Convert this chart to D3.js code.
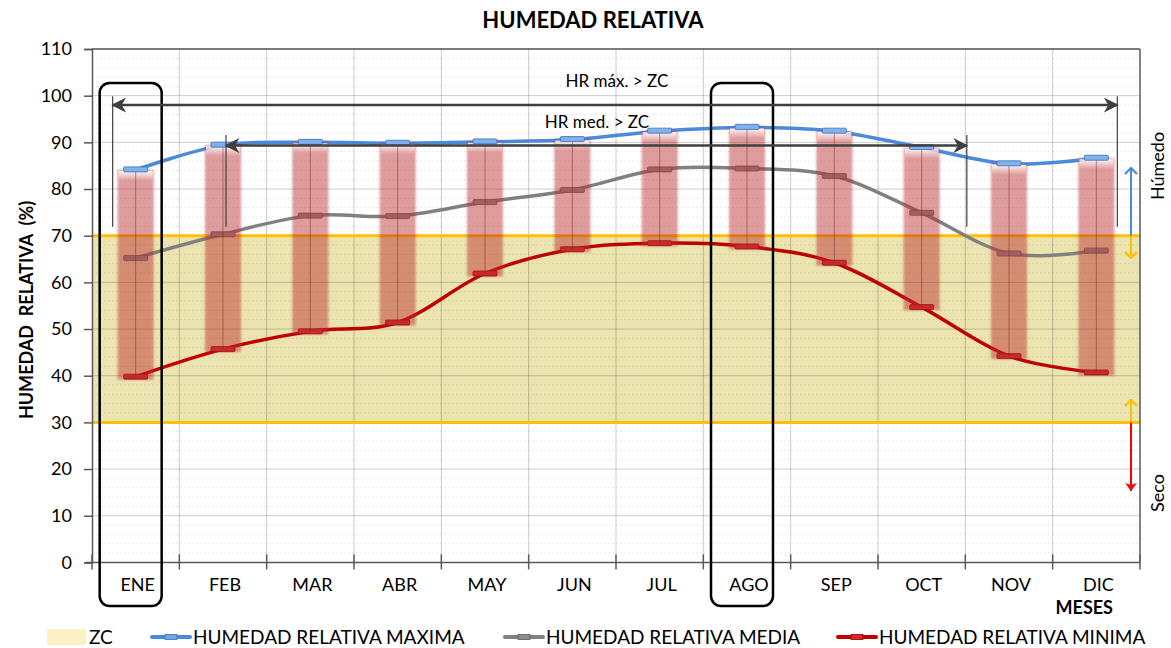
<!DOCTYPE html>
<html>
<head>
<meta charset="utf-8">
<script src="https://d3js.org/d3.v7.min.js"></script>
<style>
  body { margin: 0; background: #fff; }
  svg text { font-family: Lato, "Open Sans", sans-serif; fill: #000; }
</style>
</head>
<body>
<svg id="chart" width="1171" height="648"></svg>
<script>
// datos
var meses = ["ENE","FEB","MAR","ABR","MAY","JUN","JUL","AGO","SEP","OCT","NOV","DIC"];
var hrMax = [84.1, 89.4, 90.0, 89.8, 90.1, 90.6, 92.4, 93.2, 92.4, 88.9, 85.4, 86.6];
var hrMed = [65.2, 70.3, 74.3, 74.2, 77.2, 79.8, 84.2, 84.4, 82.8, 74.9, 66.2, 66.8];
var hrMin = [39.8, 45.7, 49.5, 51.4, 61.9, 67.1, 68.4, 67.7, 64.2, 54.7, 44.2, 40.7];
var zc = [30, 70];
var yTicks = [0,10,20,30,40,50,60,70,80,90,100,110];
var leyenda = ["ZC","HUMEDAD RELATIVA MAXIMA","HUMEDAD RELATIVA MEDIA","HUMEDAD RELATIVA MINIMA"];

var svg = d3.select("#chart");
var pLeft = 92, pRight = 1140, pTop = 49, pBottom = 562.4;

var x = d3.scaleBand().domain(meses).range([pLeft, pRight]);
var y = d3.scaleLinear().domain([0, 110]).range([pBottom, pTop]);
var xc = function(m){ return x(m) + x.bandwidth()/2; };

var defs = svg.append("defs");
var blur = defs.append("filter").attr("id","soft").attr("x","-20%").attr("y","-5%").attr("width","140%").attr("height","110%");
blur.append("feGaussianBlur").attr("stdDeviation", 1.2);
var glow = defs.append("linearGradient").attr("id","glow").attr("x1",0).attr("y1",0).attr("x2",0).attr("y2",1);
glow.append("stop").attr("offset","0%").attr("stop-color","#fff").attr("stop-opacity",0.9);
glow.append("stop").attr("offset","100%").attr("stop-color","#fff").attr("stop-opacity",0);

function arrowHead(id, color){
  defs.append("marker").attr("id", id)
    .attr("viewBox","0 0 10 10").attr("refX",9).attr("refY",5)
    .attr("markerWidth",6).attr("markerHeight",6).attr("markerUnits","strokeWidth")
    .attr("orient","auto-start-reverse")
    .append("path").attr("d","M0,0 L10,5 L0,10 L3,5 Z").attr("fill", color);
}
arrowHead("ahDark", "#3f3f3f");
function chevron(id, color){
  defs.append("marker").attr("id", id)
    .attr("viewBox","0 0 8 14").attr("refX",7).attr("refY",7)
    .attr("markerWidth",4).attr("markerHeight",7).attr("markerUnits","strokeWidth")
    .attr("orient","auto-start-reverse")
    .append("path").attr("d","M1,1 L7,7 L1,13").attr("fill","none").attr("stroke", color).attr("stroke-width",2.2);
}
chevron("chBlue", "#4a89dc");
chevron("chYellow", "#ffc000");
defs.append("marker").attr("id","chRed")
  .attr("viewBox","0 0 8 14").attr("refX",8).attr("refY",7)
  .attr("markerWidth",4).attr("markerHeight",7).attr("markerUnits","strokeWidth")
  .attr("orient","auto-start-reverse")
  .append("path").attr("d","M0,1 L8,7 L0,13 L2,7 Z").attr("fill","#ff0000");

// titulo
svg.append("text").attr("x", 593).attr("y", 28).attr("text-anchor","middle")
  .style("font-weight","bold").style("font-size","22px").text("HUMEDAD RELATIVA");

// zona de confort
svg.append("rect").attr("x", pLeft).attr("y", y(zc[1])).attr("width", pRight-pLeft)
  .attr("height", y(zc[0]) - y(zc[1])).attr("fill", "#ece4b0");

// rejilla
var minor = d3.range(0, 111, 2).filter(function(d){ return d % 10 != 0; });
svg.append("g").selectAll("line").data(minor).enter().append("line")
  .attr("x1", pLeft).attr("x2", pRight).attr("y1", y).attr("y2", y)
  .attr("stroke","rgba(0,0,0,0.09)").attr("stroke-dasharray","2,2");
svg.append("g").selectAll("line").data(yTicks.slice(1)).enter().append("line")
  .attr("x1", pLeft).attr("x2", pRight).attr("y1", y).attr("y2", y)
  .attr("stroke","rgba(0,0,0,0.2)");
svg.append("g").selectAll("line").data(meses.slice(1)).enter().append("line")
  .attr("x1", function(d){ return x(d); }).attr("x2", function(d){ return x(d); })
  .attr("y1", pTop).attr("y2", pBottom)
  .attr("stroke","rgba(0,0,0,0.2)");

// limites ZC
svg.append("g").selectAll("line").data(zc).enter().append("line")
  .attr("x1", pLeft).attr("x2", pRight).attr("y1", y).attr("y2", y)
  .attr("stroke","#ffc000").attr("stroke-width",3);

// borde del area
svg.append("line").attr("x1",pLeft).attr("x2",pRight).attr("y1",pTop).attr("y2",pTop).attr("stroke","#595959").attr("stroke-width",1.5);
svg.append("line").attr("x1",pRight).attr("x2",pRight).attr("y1",pTop).attr("y2",pBottom).attr("stroke","#595959").attr("stroke-width",1.5);

// ejes
var yAxis = svg.append("g").attr("transform","translate("+pLeft+",0)")
  .call(d3.axisLeft(y).tickValues(yTicks).tickSize(8).tickPadding(12));
yAxis.select(".domain").attr("stroke","#595959").attr("stroke-width",1.5);
yAxis.selectAll(".tick line").attr("stroke","#595959").attr("stroke-width",1.5);
yAxis.selectAll("text").style("font-size","18px").style("font-family","Lato");

var xAxis = svg.append("g").attr("transform","translate(0,"+pBottom+")")
  .call(d3.axisBottom(x).tickSize(0).tickPadding(16));
xAxis.select(".domain").remove();
xAxis.selectAll("text").style("font-size","18px").style("font-family","Lato")
  .attr("dx", 2);
svg.append("line").attr("x1", pLeft-6).attr("x2", pRight).attr("y1", pBottom).attr("y2", pBottom)
  .attr("stroke","#595959").attr("stroke-width",1.5);
svg.append("g").selectAll("line").data(meses.concat(["_fin"])).enter().append("line")
  .attr("x1", function(d,i){ return pLeft + i*x.bandwidth(); })
  .attr("x2", function(d,i){ return pLeft + i*x.bandwidth(); })
  .attr("y1", pBottom-8).attr("y2", pBottom+7)
  .attr("stroke","#595959").attr("stroke-width",1.5);

svg.append("text").attr("x", 1113).attr("y", 614).attr("text-anchor","end")
  .style("font-weight","bold").style("font-size","18px").text("MESES");
svg.append("text").attr("transform","translate(33,310) rotate(-90)").attr("text-anchor","middle")
  .style("font-weight","bold").style("font-size","18px").attr("xml:space","preserve")
  .text("HUMEDAD  RELATIVA  (%)");

// lineas suavizadas
var series = [
  {vals: hrMax, color: "#4a89dc", fill: "#6ea8ea", edge: "#3a6fb5"},
  {vals: hrMed, color: "#808080", fill: "#8c8c8c", edge: "#5a5a5a"},
  {vals: hrMin, color: "#c00000", fill: "#d62828", edge: "#8b0000"}
];
var line = d3.line()
  .x(function(d,i){ return xc(meses[i]); })
  .y(function(d){ return y(d); })
  .curve(d3.curveCardinal.tension(0));

series.forEach(function(s, k){
  svg.append("path").datum(s.vals).attr("d", line)
    .attr("fill","none").attr("stroke", s.color).attr("stroke-width",3.5);
  if (k > 0) {
    svg.append("g").selectAll("rect").data(s.vals).enter().append("rect")
      .attr("x", function(d,i){ return xc(meses[i]) - 12; })
      .attr("y", function(d){ return y(d) - 2.5; })
      .attr("width", 24).attr("height", 5).attr("rx", 1)
      .attr("fill", s.fill).attr("stroke", s.edge).attr("stroke-width", 0.8);
  }
});

// barras min-max
var bars = svg.append("g");
bars.selectAll("rect.bar").data(meses).enter().append("rect").attr("class","bar")
  .attr("x", function(d){ return xc(d) - 18; })
  .attr("y", function(d,i){ return y(hrMax[i]); })
  .attr("width", 36)
  .attr("height", function(d,i){ return y(hrMin[i]) - y(hrMax[i]) + 3; })
  .attr("fill","rgba(185,45,45,0.47)").attr("filter","url(#soft)");
bars.selectAll("rect.glow").data(meses).enter().append("rect").attr("class","glow")
  .attr("x", function(d){ return xc(d) - 17; })
  .attr("y", function(d,i){ return y(hrMax[i]) + 1; })
  .attr("width", 34).attr("height", 10)
  .attr("fill","url(#glow)");
bars.selectAll("line").data(meses).enter().append("line")
  .attr("x1", xc).attr("x2", xc)
  .attr("y1", function(d,i){ return y(hrMax[i]); })
  .attr("y2", function(d,i){ return y(hrMin[i]); })
  .attr("stroke","rgba(110,30,30,0.45)").attr("stroke-width",1);

// marcadores maxima
svg.append("g").selectAll("rect").data(hrMax).enter().append("rect")
  .attr("x", function(d,i){ return xc(meses[i]) - 12; })
  .attr("y", function(d){ return y(d) - 3; })
  .attr("width", 24).attr("height", 5).attr("rx", 1)
  .attr("fill", "#7fb2ec").attr("stroke", "#3a6fb5").attr("stroke-width", 0.8);

// recuadros ENE y AGO
["ENE","AGO"].forEach(function(m){
  svg.append("rect").attr("x", xc(m) - 36).attr("y", 83).attr("width", 62)
    .attr("height", 523).attr("rx", 10)
    .attr("fill","none").attr("stroke","#000").attr("stroke-width",2.5);
});

// flechas HR > ZC
function flecha(x1, x2, yv, yTop, txt, tx, ty){
  svg.append("line").attr("x1", x1).attr("x2", x2).attr("y1", y(yv)).attr("y2", y(yv))
    .attr("stroke","#3f3f3f").attr("stroke-width",2.5)
    .attr("marker-start","url(#ahDark)").attr("marker-end","url(#ahDark)");
  [x1, x2].forEach(function(xx){
    svg.append("line").attr("x1", xx).attr("x2", xx).attr("y1", y(yTop)).attr("y2", y(71.9))
      .attr("stroke","#3f3f3f").attr("stroke-width",1.2);
  });
  svg.append("text").attr("x", tx).attr("y", ty).attr("text-anchor","middle")
    .style("font-size","17px").text(txt);
}
flecha(xc("ENE") - 23, xc("DIC") + 21, 98.0, 99.9, "HR máx. > ZC", 617, 87);
flecha(xc("FEB") + 3, x("NOV") + 1.5, 89.3, 91.6, "HR med. > ZC", 597, 128);

// flechas laterales
var ax = 1131;
function vflecha(y1, y2, color, mk){
  svg.append("line").attr("x1", ax).attr("x2", ax).attr("y1", y1).attr("y2", y2)
    .attr("stroke", color).attr("stroke-width", 2).attr("marker-end","url(#"+mk+")");
}
vflecha(y(zc[1]), 168, "#4a89dc", "chBlue");
vflecha(y(zc[1]), 258, "#ffc000", "chYellow");
vflecha(y(zc[0]), 400, "#ffc000", "chYellow");
vflecha(y(zc[0]), 491, "#ff0000", "chRed");
svg.append("text").attr("transform","translate(1164,166) rotate(-90)").attr("text-anchor","middle")
  .style("font-size","18px").text("Húmedo");
svg.append("text").attr("transform","translate(1164,493) rotate(-90)").attr("text-anchor","middle")
  .style("font-size","18px").text("Seco");

// leyenda
var lg = svg.append("g");
lg.append("rect").attr("x", 47).attr("y", 629).attr("width", 39).attr("height", 16).attr("fill","#fbf0c6");
lg.append("text").attr("x", 89).attr("y", 644).style("font-size","19px").text(leyenda[0]);
var lx = [152, 505, 838];
series.forEach(function(s, k){
  var x0 = lx[k];
  lg.append("line").attr("x1", x0).attr("x2", x0+38).attr("y1", 637).attr("y2", 637)
    .attr("stroke", s.color).attr("stroke-width", 4).attr("stroke-linecap","round");
  lg.append("rect").attr("x", x0+13).attr("y", 634.5).attr("width", 12).attr("height", 5)
    .attr("fill", s.fill).attr("stroke", s.edge).attr("stroke-width", 0.8);
  lg.append("text").attr("x", x0+41).attr("y", 644).style("font-size","19px").text(leyenda[k+1]);
});
</script>
</body>
</html>
